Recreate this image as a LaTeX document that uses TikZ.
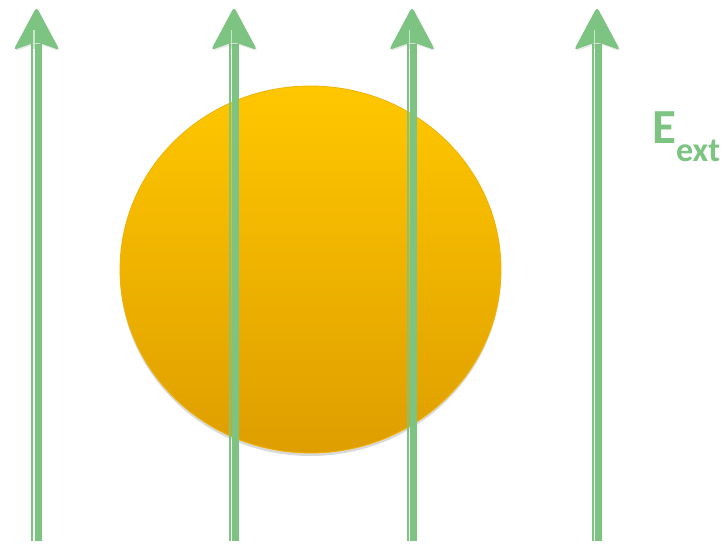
\documentclass[tikz,border=0pt]{standalone}
\usepackage{fontspec}
\setmainfont{Carlito}
\usetikzlibrary{shadows}
\definecolor{fieldgreen}{RGB}{125,195,130}
\definecolor{palegreen}{RGB}{200,232,202}
\definecolor{goldtop}{RGB}{255,199,0}
\definecolor{goldbot}{RGB}{222,158,0}
\definecolor{goldedge}{RGB}{240,178,0}
\tikzset{
  headstyle/.style={fill=fieldgreen, rounded corners=3.5pt, drop shadow={shadow xshift=1pt, shadow yshift=-1.5pt, opacity=0.18}},
  thinshaft/.style={draw=fieldgreen, line width=2pt},
  thickshaft/.style={draw=fieldgreen, line width=7pt},
  gapline/.style={draw=palegreen, line width=1.3pt},
  ball/.style={ellipse, minimum width=381pt, minimum height=367pt, inner sep=0pt,
    top color=goldtop, bottom color=goldbot, draw=goldedge, line width=0.8pt,
    drop shadow={shadow xshift=0pt, shadow yshift=-3pt, opacity=0.3}},
  labelstyle/.style={text=fieldgreen, font=\bfseries\fontsize{49}{52}\selectfont, inner sep=0pt, anchor=base west}
}
\usetikzlibrary{shapes.geometric}
\begin{document}
\begin{tikzpicture}[x=1pt,y=-1pt]
\useasboundingbox (0,0) rectangle (724,545);
\node[ball] (sphere) at (310.5,269.5) {};
\foreach \cx/\nm in {36.5/a,234/b,412/c,597/d}{
  \coordinate (\nm top) at (\cx,7);
  \coordinate (\nm bot) at (\cx,541);
  \draw[thinshaft] (\cx-4.5,44) -- (\cx-4.5,541);
  \draw[thickshaft] (\cx+1.5,44) -- (\cx+1.5,541);
  \path[headstyle] (\cx-23,50) -- (\nm top) -- (\cx+23,50) -- (\cx+3,43) -- (\cx-3,43) -- cycle;
  \draw[gapline] (\cx-2.5,30) -- (\cx-2.5,49);
}
\node[labelstyle] (Eext) at (652,143.5) {E\raisebox{-0.36em}{\fontsize{34}{36}\selectfont ext}};
\end{tikzpicture}
\end{document}
